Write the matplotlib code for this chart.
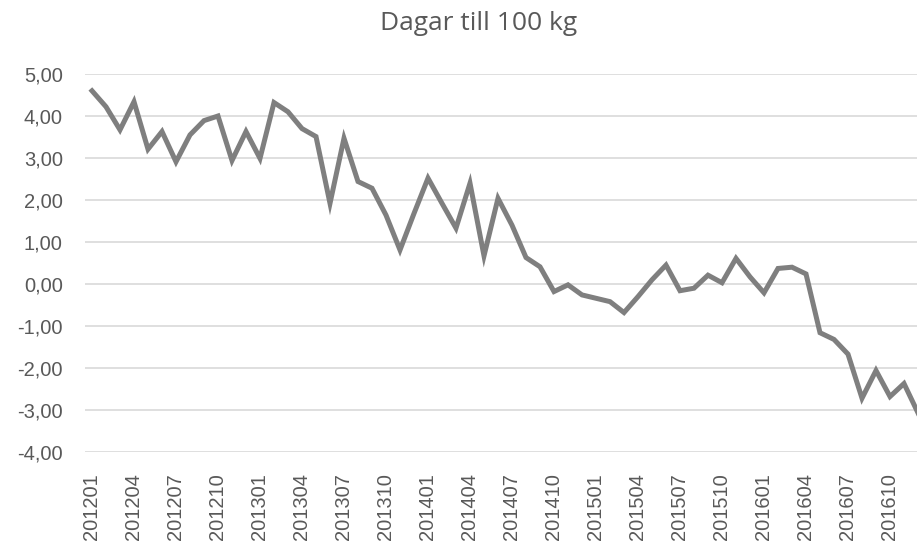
import matplotlib
matplotlib.use('Agg')
import matplotlib.pyplot as plt
import numpy as np

# monthly periods 201201 .. 201612
months = ['%d%02d' % (y, m) for y in range(2012, 2017) for m in range(1, 13)]

values = [4.60, 4.22, 3.67, 4.34, 3.21, 3.63, 2.91, 3.55, 3.89, 4.00,
          2.94, 3.63, 2.99, 4.32, 4.10, 3.70, 3.51, 1.92, 3.47, 2.44,
          2.28, 1.64, 0.81, 1.68, 2.52, 1.92, 1.33, 2.40, 0.67, 2.04,
          1.40, 0.63, 0.41, -0.18, -0.02, -0.26, -0.34, -0.42, -0.68, -0.30,
          0.10, 0.45, -0.16, -0.10, 0.21, 0.03, 0.61, 0.17, -0.21, 0.37,
          0.40, 0.24, -1.16, -1.32, -1.67, -2.72, -2.06, -2.68, -2.37, -3.07]

title = 'Dagar till 100 kg'
yticks = np.arange(-4, 5.01, 1)

plt.rcParams['font.family'] = ['Liberation Sans', 'DejaVu Sans']

fig = plt.figure(figsize=(9.17, 5.45), dpi=100)
ax = fig.add_axes([85/917, 93/545, 840/917, 378/545])

x = np.arange(len(months))
ax.plot(x, values, color='#7f7f7f', linewidth=3.6, solid_joinstyle='miter', clip_on=False)

ax.set_xlim(-0.5, len(months) - 0.5)
ax.set_ylim(-4, 5)
ax.set_yticks(yticks)
ax.set_yticklabels([('%.2f' % v).replace('.', ',') for v in yticks])
ax.set_xticks(x[::3])
ax.set_xticklabels(months[::3], rotation=90)

ax.grid(axis='y', color='#d9d9d9', linewidth=1.2)
ax.set_axisbelow(True)
for s in ax.spines.values():
    s.set_visible(False)
ax.tick_params(axis='both', length=0, labelsize=14.5, colors='#595959')
ax.tick_params(axis='y', pad=16)
ax.tick_params(axis='x', pad=15)

fig.text(0.522, 0.957, title, ha='center', va='center', fontsize=19,
         color='#595959', family=['Open Sans', 'DejaVu Sans'])

fig.savefig('out.png', dpi=100)
